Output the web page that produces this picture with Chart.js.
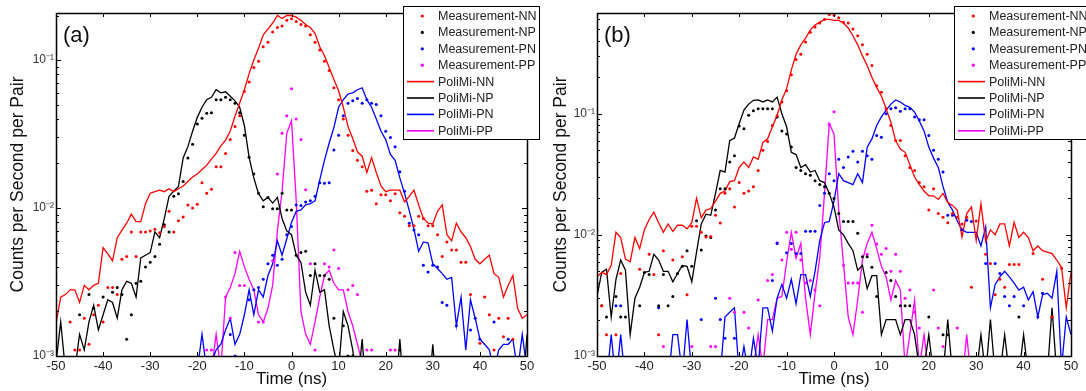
<!DOCTYPE html>
<html>
<head>
<meta charset="utf-8">
<script src="https://cdn.jsdelivr.net/npm/chart.js@4.4.1/dist/chart.umd.min.js"></script>
<style>
html, body { margin: 0; padding: 0; background: #fff; }
#wrap { position: relative; width: 1086px; height: 391px; overflow: hidden; }
.panel { position: absolute; top: 0; width: 543px; height: 391px; }
#pa { left: 0; }
#pb { left: 543px; }
</style>
</head>
<body>
<div id="wrap">
  <div class="panel" id="pa"><canvas id="chartA"></canvas></div>
  <div class="panel" id="pb"><canvas id="chartB"></canvas></div>
</div>
<script>
// time bins, ns
var times = [-50,-49,-48,-47,-46,-45,-44,-43,-42,-41,-40,-39,-38,-37,-36,-35,-34,-33,-32,-31,
  -30,-29,-28,-27,-26,-25,-24,-23,-22,-21,-20,-19,-18,-17,-16,-15,-14,-13,-12,-11,
  -10,-9,-8,-7,-6,-5,-4,-3,-2,-1,0,1,2,3,4,5,6,7,8,9,10,11,12,13,14,15,16,17,18,19,
  20,21,22,23,24,25,26,27,28,29,30,31,32,33,34,35,36,37,38,39,40,41,42,43,44,45,46,47,48,49,50];

var pairs = ['NN', 'NP', 'PN', 'PP'];
var pairColors = ['#ff0000', '#000000', '#0000ff', '#ff00ff'];
var xTickValues = [-50, -40, -30, -20, -10, 0, 10, 20, 30, 40, 50];
var yTickValues = [0.001, 0.01, 0.1];
var yTickLabels = ['10\u207B\u00B3', '10\u207B\u00B2', '10\u207B\u00B9'];

// ---- panel (a) ----
var aMeasNN = [null,null,null,0.0017,0.0011,0.0011,0.0018,0.0012,0.0019,0.0022,
  0.0017,0.0029,0.0029,0.0026,0.0045,0.0047,0.0069,0.0047,0.0069,0.0069,
  0.0070,0.0072,0.0068,0.0075,0.0095,0.0069,0.0082,0.0087,0.0105,0.0100,
  0.0106,0.0148,0.0126,0.0134,0.019,0.019,0.0234,0.029,0.0355,0.042,
  0.0614,0.071,0.089,0.098,0.123,0.132,0.155,0.166,0.170,0.186,
  0.190,0.182,0.174,0.170,0.148,0.132,0.117,0.098,0.085,0.065,
  0.054,0.040,0.031,0.0245,0.021,0.019,0.013,0.0132,0.0107,0.0123,
  0.0123,0.0112,0.0125,0.0093,0.0088,0.0076,0.0076,0.0088,0.0085,0.0076,
  0.0076,0.0066,0.0047,0.0059,0.0052,0.0052,0.0043,0.0043,0.0026,null,
  0.00122,0.0025,0.0019,0.0011,0.0018,0.00135,0.0018,0.0013,null,null,
  null];
var aMeasNP = [null,null,null,null,null,0.0019,null,0.0026,0.0021,null,
  0.0025,null,0.0027,0.0029,0.0026,0.0013,0.0019,0.0031,0.0032,0.0040,
  0.0043,0.0047,0.0057,0.0077,0.0069,0.0120,0.0125,0.0151,0.0218,0.027,
  0.037,0.0405,0.0437,0.044,0.054,0.054,0.056,0.054,0.051,0.044,
  0.031,0.022,0.017,0.0126,0.0102,0.0118,0.0099,0.0099,0.0126,0.0097,
  0.0097,0.0048,0.0050,0.0051,0.0035,0.0042,0.0035,0.0035,0.0033,0.0018,
  null,0.0016,0.0010,0.0010,null,null,null,null,null,null,
  null,null,null,0.0011,null,null,null,null,null,null,
  null,null,null,null,null,null,null,null,null,null,
  null,null,null,null,null,null,null,null,null,null,
  null];
var aMeasPN = [null,null,null,null,null,null,null,null,null,null,
  null,null,null,null,null,null,null,null,null,null,
  null,null,null,null,null,null,null,null,null,null,
  null,null,null,null,null,null,null,0.0014,0.0010,null,
  null,0.0024,0.0028,0.0029,0.0033,0.0042,0.0048,0.0041,0.0045,0.0066,
  0.0075,0.0105,0.0104,0.0110,0.0112,0.0120,0.0148,0.0147,0.0148,0.0247,
  0.031,0.042,0.051,0.053,0.055,0.051,0.054,0.051,0.050,0.042,
  0.033,0.030,0.026,0.0176,0.0130,0.0079,0.0071,0.0066,0.0041,0.0037,
  0.0041,0.0040,0.0023,0.0022,null,0.0016,null,null,0.0015,0.0018,
  0.0013,null,null,0.0017,null,null,0.0013,null,null,null,
  null];
var aMeasPP = [null,null,null,null,null,null,null,null,null,null,
  null,null,null,null,null,null,null,null,null,null,
  null,null,null,null,null,null,null,null,null,null,
  null,null,0.0011,0.0011,null,null,0.0025,0.0018,0.0050,0.0030,
  0.0030,null,null,0.0017,0.0017,null,0.0044,0.017,0.032,0.042,
  0.064,0.040,0.029,0.0133,0.0042,0.0011,null,0.0042,0.0040,0.0052,
  0.0039,null,0.0028,0.0030,0.0026,null,0.0011,0.0011,null,null,
  null,0.0011,0.0011,null,null,null,null,null,null,null,
  null,null,null,null,null,null,null,null,null,null,
  null,null,null,null,null,null,null,null,null,null,
  null];
var aSimNN = [0.00166,0.0025,0.0026,0.0028,0.0028,0.0023,0.0030,0.0028,0.0030,0.0031,
  0.0054,0.0049,0.0044,0.0063,0.0071,0.0079,0.0091,0.0081,0.0081,0.0107,
  0.0126,0.0129,0.0132,0.0129,0.0135,0.0129,0.0135,0.0141,0.0151,0.0162,
  0.0170,0.0182,0.0195,0.0214,0.0234,0.0263,0.0288,0.0331,0.0417,0.0513,
  0.063,0.081,0.100,0.120,0.148,0.162,0.178,0.200,0.191,0.200,
  0.200,0.195,0.186,0.174,0.166,0.151,0.123,0.107,0.089,0.074,
  0.062,0.048,0.0355,0.0295,0.024,0.0224,0.0174,0.0219,0.0174,0.0141,
  0.0129,0.0132,0.0132,0.0132,0.011,0.012,0.0132,0.0105,0.0085,0.0079,
  0.0078,0.0095,0.0105,0.0066,0.0060,0.0079,0.0069,0.0063,0.0055,0.0045,
  0.0042,0.0045,0.0048,0.0036,0.0034,0.0025,0.0030,0.0035,0.0021,0.0018,
  0.0019];
var aSimNP = [0.0009,0.0017,0.0008,0.0006,0.0008,0.0014,0.0011,0.0017,0.0022,0.0015,
  0.0019,0.0024,0.0023,0.0018,0.0028,0.0032,0.0031,0.0025,0.0046,0.0048,
  0.0050,0.0069,0.0063,0.0085,0.0120,0.0130,0.0140,0.0218,0.0260,0.033,
  0.041,0.048,0.054,0.056,0.063,0.060,0.061,0.057,0.053,0.048,
  0.036,0.022,0.016,0.0125,0.0112,0.0118,0.0108,0.0118,0.0085,0.0070,
  0.0066,0.0048,0.0043,0.0027,0.0022,0.0038,0.0027,0.0028,0.0016,0.0011,
  0.0008,0.0020,0.0016,0.0011,0.0006,0.0013,0.0005,0.0005,0.0005,0.0005,
  0.0005,0.0005,0.0005,0.0013,0.0005,0.0005,0.0005,0.0005,0.0005,0.0005,
  0.0012,0.0005,0.0005,0.0005,0.0005,0.0005,0.0005,0.0005,0.0005,0.0005,
  0.0005,0.0005,0.0005,0.0005,0.0005,0.0005,0.0005,0.0005,0.0005,0.0005,
  0.0014];
var aSimPN = [0.0005,0.0005,0.0005,0.0005,0.0005,0.0005,0.0005,0.0005,0.0005,0.0005,
  0.0005,0.0005,0.0005,0.0005,0.0005,0.0005,0.0005,0.0005,0.0005,0.0005,
  0.0005,0.0005,0.0005,0.0005,0.0005,0.0005,0.0005,0.0005,0.0005,0.0005,
  0.0008,0.0014,0.0008,0.0009,0.0011,0.0012,0.0015,0.0018,0.0012,0.0014,
  0.0019,0.0028,0.0019,0.0028,0.0025,0.0035,0.0042,0.0060,0.0048,0.0062,
  0.0080,0.0095,0.0097,0.0105,0.0107,0.0112,0.0155,0.021,0.0275,0.035,
  0.048,0.054,0.059,0.060,0.063,0.065,0.054,0.048,0.040,0.033,
  0.029,0.023,0.021,0.016,0.0126,0.0096,0.0072,0.0051,0.0059,0.0058,
  0.0042,0.0039,0.0036,0.0033,0.0034,0.0016,0.0025,0.0011,0.0024,0.0018,
  0.0013,0.0012,0.0011,0.0008,0.0011,0.0012,0.0012,0.0013,0.0008,0.0014,
  0.0008];
var aSimPP = [0.0005,0.0005,0.0005,0.0005,0.0005,0.0005,0.0005,0.0005,0.0005,0.0005,
  0.0005,0.0005,0.0005,0.0005,0.0005,0.0005,0.0005,0.0005,0.0005,0.0005,
  0.0005,0.0005,0.0005,0.0005,0.0005,0.0005,0.0005,0.0005,0.0005,0.0005,
  0.0005,0.0005,0.0005,0.0008,0.0014,0.0008,0.0025,0.0029,0.0036,0.0051,
  0.0040,0.0033,0.0028,0.0019,0.0017,0.0021,0.0030,0.0070,0.0130,0.032,
  0.039,0.0113,0.0020,0.0014,0.0012,0.0017,0.0025,0.0035,0.0038,0.0031,
  0.0028,0.0028,0.0020,0.0016,0.0012,0.0009,0.0005,0.0005,0.0005,0.0005,
  0.0005,0.0005,0.0005,0.0005,0.0005,0.0005,0.0005,0.0005,0.0005,0.0005,
  0.0005,0.0005,0.0005,0.0005,0.0005,0.0005,0.0005,0.0005,0.0005,0.0005,
  0.0005,0.0005,0.0005,0.0005,0.0005,0.0005,0.0005,0.0005,0.0005,0.0005,
  0.0005];

// ---- panel (b) ----
var bMeasNN = [0.0015,0.0026,0.0015,null,0.0015,0.0048,null,null,null,0.0052,
  null,0.0069,0.0047,0.0015,0.0074,null,0.0062,null,0.0066,0.0032,
  0.0118,0.0118,0.0105,0.0096,0.0097,0.0145,0.0125,0.022,0.024,0.017,
  0.027,0.022,0.023,0.025,0.034,0.050,0.059,0.080,0.096,0.125,
  0.155,0.21,0.28,0.31,0.39,0.47,0.52,0.56,0.60,0.66,
  0.65,0.62,0.57,0.56,0.50,0.44,0.37,0.31,0.25,0.17,
  0.15,0.11,0.080,0.060,0.060,0.045,0.036,0.034,0.027,0.025,
  0.016,0.024,0.015,0.014,0.0126,0.015,0.014,0.0123,0.014,0.0037,
  0.013,null,0.0069,0.0058,0.0032,0.0043,0.0037,0.0057,0.0057,0.0057,
  null,null,0.0070,null,0.0043,null,0.0021,null,0.0053,null,
  null];
var bMeasNP = [null,0.0026,0.0021,null,0.0031,0.0021,0.0021,null,null,0.0026,
  0.0049,0.0047,null,0.0026,0.0047,0.0026,0.0031,0.0048,0.0055,0.0074,
  0.0055,0.0131,0.0075,0.0098,0.0095,0.016,0.024,0.024,0.040,0.045,
  0.079,0.075,0.097,0.106,0.110,0.110,0.110,0.110,0.094,0.072,
  0.068,0.053,0.036,0.034,0.032,0.031,0.028,0.026,0.025,0.022,
  0.020,0.015,0.0129,0.0129,0.0129,0.0103,0.0066,0.0066,0.0054,0.0031,
  null,0.0049,0.0042,0.0031,0.0026,0.0026,0.0026,null,null,null,
  0.0021,null,null,0.0015,0.0015,null,null,null,null,null,
  null,null,null,null,null,null,null,null,null,0.0021,
  null,null,null,null,null,null,0.0021,null,null,null,
  null];
var bMeasPN = [null,null,null,null,0.0026,0.0026,null,null,null,null,
  null,null,null,0.0025,null,null,null,null,null,null,
  null,null,0.0020,null,null,0.0030,0.0020,0.0014,null,0.0014,
  null,null,null,null,null,null,null,0.0042,0.0085,null,
  0.0071,0.0085,0.0070,0.0070,0.0107,0.0107,0.0107,0.0175,0.022,0.032,
  0.028,0.042,0.036,0.044,0.049,0.040,0.049,0.045,0.042,0.066,
  0.064,0.100,0.110,0.112,0.105,0.110,0.110,0.094,0.089,0.089,
  0.066,0.050,0.042,0.033,0.0145,0.0145,null,0.011,0.0132,0.0129,
  null,null,0.0058,null,0.0058,0.0048,0.0031,0.0026,0.0031,null,
  0.0026,null,null,0.0021,0.0033,null,null,null,null,null,
  null];
var bMeasPP = [null,null,null,null,null,null,null,null,null,null,
  null,null,null,null,0.0012,null,null,null,null,null,
  0.0012,null,null,null,0.0012,0.0012,null,null,0.0030,0.0023,
  null,0.0023,0.0017,null,0.0029,null,0.0042,0.0047,0.0086,0.0062,
  0.0105,0.0076,0.0105,0.0062,0.0040,0.0042,0.0035,0.0026,null,0.082,
  0.104,null,0.0056,0.0040,0.0040,0.0040,0.0023,0.0069,0.012,0.0084,
  0.0069,0.0077,0.0050,0.0069,0.0050,0.0030,0.0035,0.0023,0.0017,null,
  null,0.0035,0.0017,0.0012,null,null,0.0017,null,null,null,
  null,null,null,null,null,null,null,null,null,null,
  null,null,null,null,null,null,null,null,null,null,
  null];
var bSimNN = [0.0045,0.0049,0.0047,0.0056,0.0105,0.0095,0.0063,0.0060,0.0095,0.0077,
  0.0110,0.0134,0.0154,0.0126,0.0105,0.0123,0.0107,0.0120,0.0120,0.0112,
  0.0126,0.0200,0.0138,0.0160,0.0165,0.0190,0.0220,0.0230,0.0275,0.0280,
  0.036,0.040,0.036,0.044,0.042,0.058,0.062,0.078,0.097,0.130,
  0.161,0.230,0.310,0.370,0.420,0.490,0.540,0.570,0.600,0.600,
  0.590,0.590,0.560,0.510,0.440,0.370,0.300,0.250,0.200,0.165,
  0.140,0.110,0.085,0.060,0.051,0.048,0.038,0.030,0.026,0.023,
  0.021,0.021,0.0196,0.022,0.0185,0.0175,0.016,0.0096,0.015,0.017,
  0.0090,0.018,0.0088,0.0110,0.0100,0.0123,0.0123,0.0081,0.0127,0.0095,
  0.0105,0.0095,0.0074,0.0081,0.0074,0.0072,0.0070,0.0062,0.0054,0.0025,
  0.0049];
var bSimNP = [0.0031,0.0049,0.0052,0.0021,0.0043,0.0062,0.0051,0.0015,0.0030,0.0037,
  0.0049,0.0050,0.0069,0.0062,0.0050,0.0050,0.0041,0.0048,0.0056,0.0055,
  0.0041,0.0072,0.0123,0.0148,0.0145,0.022,0.034,0.033,0.060,0.063,
  0.083,0.107,0.120,0.129,0.130,0.125,0.130,0.125,0.137,0.100,
  0.078,0.048,0.046,0.036,0.038,0.033,0.034,0.028,0.027,0.022,
  0.017,0.0110,0.0100,0.0085,0.0074,0.0051,0.0056,0.0036,0.0046,0.0046,
  0.0015,0.0020,0.0020,0.0020,0.0015,0.0020,0.0020,0.0015,0.0008,0.0008,
  0.0015,0.0007,0.0007,0.0007,0.0020,0.0007,0.0007,0.0007,0.0007,0.0007,
  0.0007,0.0015,0.0007,0.0020,0.0007,0.0007,0.0015,0.0007,0.0007,0.0007,
  0.0015,0.0007,0.0007,0.0007,0.0007,0.0007,0.0025,0.0007,0.0007,0.0007,
  0.0007];
var bSimPN = [0.0006,0.0006,0.0006,0.0015,0.0006,0.0015,0.0006,0.0006,0.0006,0.0006,
  0.0006,0.0006,0.0006,0.0006,0.0006,0.0006,0.0015,0.0015,0.0007,0.0020,
  0.0007,0.0006,0.0006,0.0006,0.0006,0.0006,0.0007,0.0021,0.0023,0.0025,
  0.0007,0.0012,0.0007,0.0014,0.0008,0.0025,0.0025,0.0016,0.0030,0.0039,
  0.0030,0.0043,0.0027,0.0047,0.0047,0.0031,0.0050,0.0090,0.0126,0.0129,
  0.019,0.032,0.028,0.027,0.026,0.032,0.027,0.053,0.062,0.080,
  0.094,0.107,0.120,0.130,0.125,0.117,0.113,0.103,0.087,0.072,
  0.053,0.043,0.036,0.025,0.0186,0.016,0.013,0.011,0.0105,0.0105,
  0.0105,0.0081,0.0116,0.0025,0.0039,0.0045,0.0050,0.0045,0.0040,0.0035,
  0.0037,0.0029,0.0034,0.0021,0.0032,0.0033,0.0030,0.0050,0.0008,0.0021,
  0.0015];
var bSimPP = [0.0006,0.0006,0.0006,0.0006,0.0006,0.0006,0.0006,0.0006,0.0006,0.0006,
  0.0006,0.0006,0.0006,0.0006,0.0006,0.0006,0.0006,0.0006,0.0006,0.0006,
  0.0006,0.0006,0.0006,0.0006,0.0006,0.0006,0.0006,0.0006,0.0006,0.0006,
  0.0006,0.0006,0.0006,0.0008,0.0015,0.0008,0.0020,0.0020,0.0030,0.0031,
  0.0060,0.0105,0.0064,0.0085,0.0030,0.0015,0.0033,0.0065,0.022,0.083,
  0.068,0.016,0.0058,0.0021,0.0015,0.0029,0.0062,0.0085,0.0105,0.0077,
  0.0055,0.0045,0.0029,0.0042,0.0035,0.0008,0.0015,0.0029,0.0008,0.0015,
  0.0007,0.0006,0.0006,0.0006,0.0006,0.0006,0.0006,0.0006,0.0015,0.0006,
  0.0006,0.0006,0.0006,0.0006,0.0006,0.0006,0.0006,0.0006,0.0006,0.0006,
  0.0006,0.0006,0.0006,0.0006,0.0006,0.0006,0.0006,0.0006,0.0006,0.0006,
  0.0006];

var FONT = "'Liberation Sans', Arial, Helvetica, sans-serif";
Chart.defaults.font.family = FONT;

function buildDatasets(meas, sim) {
  var ds = [];
  for (var i = 0; i < 4; i++) {
    ds.push({
      label: 'Measurement-' + pairs[i],
      data: meas[i],
      showLine: false,
      pointRadius: 1.5,
      pointBorderWidth: 0,
      pointBackgroundColor: pairColors[i],
      borderColor: pairColors[i],
      backgroundColor: pairColors[i]
    });
  }
  for (var j = 0; j < 4; j++) {
    ds.push({
      label: 'PoliMi-' + pairs[j],
      data: sim[j],
      borderColor: pairColors[j],
      backgroundColor: pairColors[j],
      borderWidth: 1.3,
      pointRadius: 0,
      tension: 0,
      clip: 0
    });
  }
  return ds;
}

// frame, inward ticks, panel tag and legend box
var framePlugin = {
  id: 'frame',
  afterDraw: function (chart, args, opts) {
    var c = chart.ctx, a = chart.chartArea;
    var xs = chart.scales.x, ys = chart.scales.y;
    c.save();
    c.strokeStyle = '#000';
    c.lineWidth = 1;
    c.beginPath();
    xTickValues.forEach(function (v) {
      var px = Math.round(xs.getPixelForValue(v)) + 0.5;
      c.moveTo(px, a.bottom); c.lineTo(px, a.bottom - 4);
      c.moveTo(px, a.top); c.lineTo(px, a.top + 4);
    });
    for (var e = -3; e <= 0; e++) {
      for (var m = 1; m <= 9; m++) {
        var v = m * Math.pow(10, e);
        if (v < ys.min * 0.999 || v > ys.max) continue;
        var py = Math.round(ys.getPixelForValue(v)) + 0.5;
        var len = m === 1 ? 5 : 3;
        c.moveTo(a.left, py); c.lineTo(a.left + len, py);
        c.moveTo(a.right, py); c.lineTo(a.right - len, py);
      }
    }
    c.stroke();
    c.lineWidth = 1.5;
    c.strokeRect(Math.round(a.left) + 0.5, Math.round(a.top) + 0.5,
      Math.round(a.right - a.left), Math.round(a.bottom - a.top));

    // panel tag
    c.fillStyle = '#111';
    c.font = '22px ' + FONT;
    c.textBaseline = 'middle';
    c.textAlign = 'left';
    c.fillText(opts.tag, a.left + 7, 36);

    // legend
    var lx = opts.legendX, ly = 6, w = opts.legendW, h = 133, rowH = 16.4;
    c.fillStyle = '#fff';
    c.fillRect(lx, ly, w, h);
    c.strokeStyle = '#000';
    c.lineWidth = 1;
    c.strokeRect(lx + 0.5, ly + 0.5, w, h);
    c.font = '12.5px ' + FONT;
    chart.data.datasets.forEach(function (d, i) {
      var cy = ly + 10 + i * rowH;
      if (d.showLine === false) {
        c.fillStyle = d.pointBackgroundColor;
        c.beginPath();
        c.arc(lx + 19.3, cy, 1.6, 0, Math.PI * 2);
        c.fill();
      } else {
        c.strokeStyle = d.borderColor;
        c.lineWidth = 1.6;
        c.beginPath();
        c.moveTo(lx + 4, cy); c.lineTo(lx + 31, cy);
        c.stroke();
      }
      c.fillStyle = '#222';
      c.fillText(d.label, lx + 35, cy + 0.5);
    });
    c.restore();
  }
};

function makeChart(id, meas, sim, cfg) {
  return new Chart(document.getElementById(id), {
    type: 'line',
    data: { labels: times, datasets: buildDatasets(meas, sim) },
    plugins: [framePlugin],
    options: {
      responsive: true,
      maintainAspectRatio: false,
      animation: false,
      events: [],
      layout: { padding: { left: 0, right: cfg.padRight, top: 13, bottom: 0 } },
      plugins: {
        legend: { display: false },
        tooltip: { enabled: false },
        frame: { tag: cfg.tag, legendX: cfg.legendX, legendW: cfg.legendW }
      },
      scales: {
        x: {
          type: 'linear',
          min: -50,
          max: 50,
          grid: { display: false, drawTicks: false },
          border: { display: false },
          afterBuildTicks: function (s) { s.ticks = xTickValues.map(function (v) { return { value: v }; }); },
          afterFit: function (s) { s.height = 35; s.paddingLeft = 0; s.paddingRight = 0; },
          ticks: { autoSkip: false, maxRotation: 0, padding: 3, color: '#222', font: { size: 13 } },
          title: { display: true, text: 'Time (ns)', color: '#111', font: { size: 17 }, padding: { top: 0, bottom: 1 } }
        },
        y: {
          type: 'logarithmic',
          min: 0.001,
          max: cfg.ymax,
          grid: { display: false, drawTicks: false },
          border: { display: false },
          afterBuildTicks: function (s) { s.ticks = yTickValues.map(function (v) { return { value: v }; }); },
          afterFit: function (s) { s.width = cfg.yWidth; s.paddingTop = 0; s.paddingBottom = 0; },
          ticks: {
            autoSkip: false, padding: 2, color: '#333', font: { size: 12 },
            callback: function (v, i) { return yTickLabels[i]; }
          },
          title: { display: true, text: 'Counts per Second per Pair', color: '#111', font: { size: 17.5 }, padding: { top: 8, bottom: 0 } }
        }
      }
    }
  });
}

makeChart('chartA', [aMeasNN, aMeasNP, aMeasPN, aMeasPP], [aSimNN, aSimNP, aSimPN, aSimPP],
  { tag: '(a)', ymax: 0.208, yWidth: 56, padRight: 16, legendX: 403, legendW: 136 });
makeChart('chartB', [bMeasNN, bMeasNP, bMeasPN, bMeasPP], [bSimNN, bSimNP, bSimPN, bSimPP],
  { tag: '(b)', ymax: 0.678, yWidth: 54, padRight: 15, legendX: 411, legendW: 140 });
</script>
</body>
</html>
